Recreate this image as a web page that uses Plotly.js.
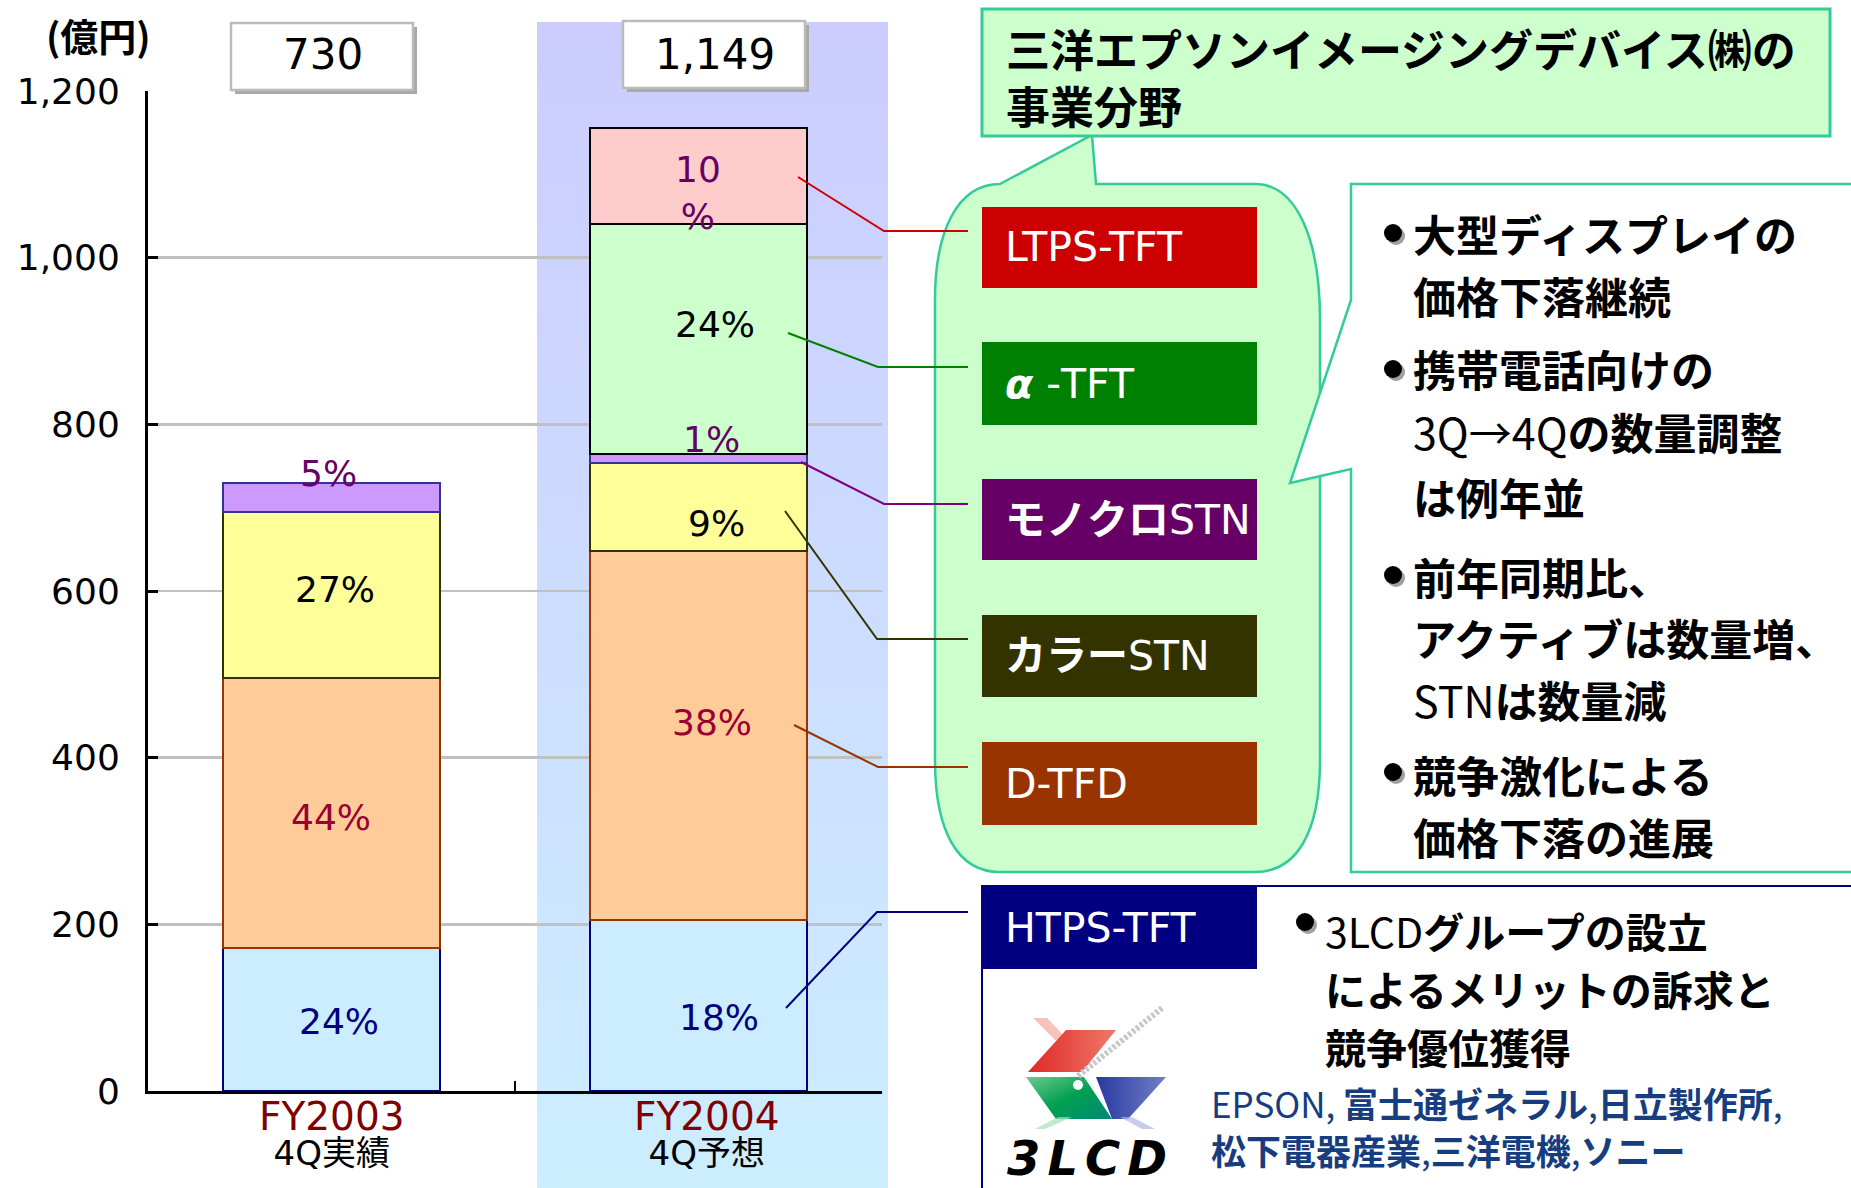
<!DOCTYPE html>
<html lang="ja">
<head>
<meta charset="UTF-8">
<title>事業分野</title>
<script src="https://cdn.plot.ly/plotly-3.0.0.min.js" charset="utf-8"></script>
<style>
    html, body { margin: 0; padding: 0; background: #fff; }
    #chart { width: 1851px; height: 1188px; }
</style>
</head>
<body>
<div id="chart"></div>
<script>
    // ---- data (億円) ----
    const categories = ['FY2003', 'FY2004'];
    const periodLabels = ['4Q実績', '4Q予想'];
    const totalLabels = ['730', '1,149'];

    const segmentNames = ['HTPS-TFT', 'D-TFD', 'カラーSTN', 'モノクロSTN', 'α-TFT', 'LTPS-TFT'];
    const htpsTft  = [172, 205];
    const dTfd     = [324, 443];
    const colorStn = [199, 106];
    const monoStn  = [35, 11];
    const alphaTft = [null, 275];
    const ltpsTft  = [null, 116];

    const htpsPct  = ['24%', '18%'];
    const dTfdPct  = ['44%', '38%'];
    const colorPct = ['27%', '9%'];
    const monoPct  = ['5%', '1%'];
    const alphaPct = [null, '24%'];
    const ltpsPct  = [null, '10<br>%'];

    // ---- texts of the side panel ----
    const boxLabels = ['HTPS-TFT', 'D-TFD', '<b>カラー</b>STN', '<b>モノクロ</b>STN', '<b><i>α</i></b> -TFT', 'LTPS-TFT'];
    const titleLines = ['三洋エプソンイメージングデバイス㈱の', '事業分野'];
    const pointLines = [
        '<b>大型ディスプレイの</b>', '<b>価格下落継続</b>',
        '<b>携帯電話向けの</b>', '3Q→4Q<b>の数量調整</b>', '<b>は例年並</b>',
        '<b>前年同期比、</b>', '<b>アクティブは数量増、</b>', 'STN<b>は数量減</b>',
        '<b>競争激化による</b>', '<b>価格下落の進展</b>'
    ];
    const groupLines = ['3LCD<b>グループの設立</b>', '<b>によるメリットの訴求と</b>', '<b>競争優位獲得</b>'];
    const memberLines = ['EPSON, <b>富士通ゼネラル</b>,<b>日立製作所</b>,', '<b>松下電器産業</b>,<b>三洋電機</b>,<b>ソニー</b>'];

    const segments = [
        {name: segmentNames[0], values: htpsTft,  labels: htpsPct},
        {name: segmentNames[1], values: dTfd,     labels: dTfdPct},
        {name: segmentNames[2], values: colorStn, labels: colorPct},
        {name: segmentNames[3], values: monoStn,  labels: monoPct},
        {name: segmentNames[4], values: alphaTft, labels: alphaPct},
        {name: segmentNames[5], values: ltpsTft,  labels: ltpsPct}
    ];

    // ---- styles ----
    const fills      = ['#CCECFF', '#FFCC99', '#FFFF99', '#CC99FF', '#CCFFCC', '#FFCCCC'];
    const outlines   = ['#000080', '#993300', '#333300', '#333399', '#000000', '#000000'];
    const pctColors  = ['#000080', '#990033', '#000000', '#660066', '#000000', '#660066'];
    const boxColors  = ['#000080', '#993300', '#333300', '#660066', '#008000', '#CC0000'];
    const leadColors = ['#000080', '#993300', '#333300', '#800080', '#008000', '#CC0000'];
    // hand placement of the percentage labels (pixel shift from segment middle)
    const pctShift = [
        [[7, -2], [20, -12]],
        [[-1, -5], [13, 13]],
        [[3, 5], [18, -17]],
        [[-3, 24], [13, 19]],
        [[0, 0], [16, 14]],
        [[0, 0], [-1, -17]]
    ];
    const latin = 'DejaVu Sans, Noto Sans CJK JP, sans-serif';
    const cjk = 'Noto Sans CJK JP, sans-serif';

    // pixel -> paper helpers for the slide decoration
    const W = 1851, H = 1188;
    const M = {l: 148, r: 969, t: 91, b: 97};
    const PW = W - M.l - M.r;
    const PH = H - M.t - M.b;
    function px(x) { return (x - M.l) / PW; }
    function py(y) { return (H - M.b - y) / PH; }
    function P(x, y) { return px(x).toFixed(5) + ',' + py(y).toFixed(5); }

    function rect(x0, y0, x1, y1, fill, line, lw) {
        return {
            type: 'rect', xref: 'paper', yref: 'paper', layer: 'above',
            x0: px(x0), x1: px(x1), y0: py(y1), y1: py(y0),
            fillcolor: fill, line: {color: line || fill, width: lw || 0}
        };
    }
    function path(d, fill, line, lw) {
        return {type: 'path', xref: 'paper', yref: 'paper', layer: 'above', path: d,
            fillcolor: fill, line: {color: line, width: lw}};
    }
    function polyline(pts, color, lw) {
        const d = pts.map((p, i) => (i ? ' L' : 'M') + P(p[0], p[1])).join('');
        return path(d, 'rgba(0,0,0,0)', color, lw);
    }
    function dot(x, y, r, color) {
        return {type: 'circle', xref: 'paper', yref: 'paper', layer: 'above',
            x0: px(x - r), x1: px(x + r), y0: py(y + r), y1: py(y - r),
            fillcolor: color, line: {width: 0}};
    }
    function label(x, y, text, size, color, family, anchor) {
        return {xref: 'paper', yref: 'paper', x: px(x), y: py(y), text: text,
            xanchor: anchor || 'left', yanchor: 'middle', showarrow: false, align: 'left',
            font: {family: family || cjk, size: size, color: color || '#000'}};
    }

    // ---- bars ----
    const traces = segments.map((s, k) => ({
        type: 'bar',
        name: s.name,
        x: categories,
        y: s.values,
        marker: {color: fills[k], line: {color: outlines[k], width: 2}},
        hoverinfo: 'skip'
    }));

    // ---- annotations ----
    const annotations = [];
    const base = [0, 0];
    segments.forEach((s, k) => {
        s.values.forEach((v, i) => {
            if (v === null) return;
            if (s.labels[i]) {
                annotations.push({
                    x: categories[i], y: base[i] + v / 2, xref: 'x', yref: 'y',
                    text: s.labels[i], showarrow: false,
                    xshift: pctShift[k][i][0], yshift: pctShift[k][i][1],
                    font: {family: latin, size: 36, color: pctColors[k]}
                });
            }
            base[i] += v;
        });
    });

    // category labels under the axis and the totals above the bars
    const catShift = [0, 8];
    const totalShift = [-9, 16];
    categories.forEach((c, i) => {
        annotations.push({x: c, y: py(1133), xref: 'x', yref: 'paper', yanchor: 'middle',
            text: '<span style="font-size:39px;fill:#800000">' + c + '</span><br>' +
                  '<span style="font-size:34px">' + periodLabels[i] + '</span>',
            showarrow: false, xshift: catShift[i],
            font: {family: latin, size: 27, color: '#000'}});
        annotations.push({x: c, y: py(55), xref: 'x', yref: 'paper', yanchor: 'middle',
            text: totalLabels[i], showarrow: false, xshift: totalShift[i],
            font: {family: latin, size: 42, color: '#000'}});
    });
    annotations.push(label(98, 35, '<b>(億円)</b>', 38, '#000', cjk, 'center'));

    // panel texts
    annotations.push(label(1004, 76, '<b>' + titleLines.join('<br>') + '</b>', 44));
    const pointY = [233, 295, 368, 431, 496, 576, 637, 699, 774, 836];
    pointLines.forEach((t, j) => annotations.push(label(1411, pointY[j], t, 43)));
    const groupY = [930, 988, 1046];
    groupLines.forEach((t, j) => annotations.push(label(1323, groupY[j], t, 41)));
    const memberY = [1102, 1149];
    memberLines.forEach((t, j) => annotations.push(label(1209, memberY[j], t, 35, '#163D80')));

    // category boxes (top to bottom on the slide)
    const boxY = [[886, 969], [742, 825], [615, 697], [479, 560], [342, 425], [207, 288]];
    boxLabels.forEach((t, k) => {
        annotations.push(label(1003, (boxY[k][0] + boxY[k][1]) / 2, t, 41, '#FFFFFF', latin));
    });
    annotations.push(label(1090, 1158,
        '<b><i><span style="letter-spacing:7px">3LCD</span></i></b>', 48, '#000', latin, 'center'));

    // ---- shapes ----
    const shapes = [];
    // green callout with pointer to the title
    shapes.push(path('M' + P(1000, 184) + ' L' + P(1092, 135) + ' L' + P(1096, 184) +
        ' L' + P(1255, 184) + ' C' + P(1297, 184) + ' ' + P(1320, 240) + ' ' + P(1320, 320) +
        ' L' + P(1320, 760) + ' C' + P(1320, 832) + ' ' + P(1297, 872) + ' ' + P(1255, 872) +
        ' L' + P(1000, 872) + ' C' + P(958, 872) + ' ' + P(935, 832) + ' ' + P(935, 760) +
        ' L' + P(935, 300) + ' C' + P(935, 230) + ' ' + P(958, 184) + ' ' + P(1000, 184) + ' Z',
        '#CCFFCC', '#33CC99', 2.5));
    // white bullet box with pointer
    shapes.push(path('M' + P(1351, 184) + ' L' + P(1858, 184) + ' L' + P(1858, 872) +
        ' L' + P(1351, 872) + ' L' + P(1351, 469) + ' L' + P(1290, 483) + ' L' + P(1351, 300) + ' Z',
        '#FFFFFF', '#33CC99', 2.5));
    // title box
    shapes.push(rect(982, 9, 1830, 136, '#CCFFCC', '#33CC99', 3));
    // bottom panel frame
    shapes.push(polyline([[982, 1195], [982, 886], [1860, 886]], '#000080', 2));
    // category boxes
    boxY.forEach((b, k) => shapes.push(rect(982, b[0], 1257, b[1], boxColors[k])));
    // leader lines from the FY2004 labels to the boxes
    const leaders = [
        [[786, 1008], [877, 912], [968, 912]],
        [[794, 725], [878, 767], [968, 767]],
        [[785, 511], [877, 639], [968, 639]],
        [[801, 462], [884, 504], [968, 504]],
        [[788, 333], [878, 367], [968, 367]],
        [[798, 177], [884, 231], [968, 231]]
    ];
    leaders.forEach((pts, k) => shapes.push(polyline(pts, leadColors[k], 2)));
    // bullets
    [[1393, 233], [1393, 369], [1393, 575], [1393, 772], [1305, 922]].forEach(b => {
        shapes.push(dot(b[0] + 3, b[1] + 3, 9, '#A0A0A0'));
        shapes.push(dot(b[0], b[1], 9, '#000000'));
    });
    // total boxes with shadow
    [[231, 23, 413, 90], [623, 21, 805, 88]].forEach(b => {
        shapes.push(rect(b[0] + 4, b[1] + 4, b[2] + 4, b[3] + 4, '#A8A8A8'));
        shapes.push(rect(b[0], b[1], b[2], b[3], '#FFFFFF', '#BBBBBB', 2.5));
    });

    // ---- images: gradient band behind FY2004 and the 3LCD mark ----
    const bandSvg = "<svg xmlns='http://www.w3.org/2000/svg' width='10' height='100' viewBox='0 0 10 100' preserveAspectRatio='none'>" +
        "<defs><linearGradient id='g' x1='0' y1='0' x2='0' y2='1'><stop offset='0' stop-color='#CCCCFF'/><stop offset='1' stop-color='#CCEEFF'/></linearGradient></defs>" +
        "<rect width='10' height='100' fill='url(#g)'/></svg>";
    const logoSvg = "<svg xmlns='http://www.w3.org/2000/svg' width='150' height='125' viewBox='0 0 150 125'>" +
        "<defs>" +
        "<linearGradient id='r' x1='0' y1='0' x2='1' y2='0'><stop offset='0' stop-color='#E02828'/><stop offset='1' stop-color='#F07868'/></linearGradient>" +
        "<linearGradient id='gr' x1='0' y1='0' x2='1' y2='1'><stop offset='0' stop-color='#70C890'/><stop offset='0.5' stop-color='#00A050'/><stop offset='1' stop-color='#008878'/></linearGradient>" +
        "<linearGradient id='b' x1='0' y1='0' x2='1' y2='0'><stop offset='0' stop-color='#2838A0'/><stop offset='1' stop-color='#7080C8'/></linearGradient>" +
        "</defs>" +
        "<polygon points='13,13 27,13 48,35 35,35' fill='#F4A8A0' opacity='0.7'/>" +
        "<polygon points='8,67 62,67 96,25 46,25' fill='url(#r)'/>" +
        "<polygon points='6,72 64,72 92,114 36,114' fill='url(#gr)'/>" +
        "<polygon points='38,112 52,112 25,124 15,124' fill='#A8E0B8' opacity='0.7'/>" +
        "<polygon points='76,72 146,72 108,114 92,114' fill='url(#b)'/>" +
        "<polygon points='100,112 112,112 135,124 122,124' fill='#B0B8E0' opacity='0.7'/>" +
        "<line x1='142' y1='3' x2='57' y2='72' stroke='#C8C8C8' stroke-width='6' stroke-dasharray='3 2'/>" +
        "<circle cx='58' cy='80' r='5' fill='white'/>" +
        "</svg>";
    const svgUri = s => 'data:image/svg+xml;charset=utf-8,' + encodeURIComponent(s);

    const images = [
        {source: svgUri(bandSvg), xref: 'paper', yref: 'paper', x: px(537), y: py(22),
            sizex: (888 - 537) / PW, sizey: (1190 - 22) / PH, xanchor: 'left', yanchor: 'top',
            sizing: 'stretch', layer: 'below'},
        {source: svgUri(logoSvg), xref: 'paper', yref: 'paper', x: px(1020), y: py(1005),
            sizex: 150 / PW, sizey: 125 / PH, xanchor: 'left', yanchor: 'top',
            sizing: 'stretch', layer: 'above'}
    ];

    const layout = {
        width: W,
        height: H,
        margin: M,
        paper_bgcolor: '#FFFFFF',
        plot_bgcolor: 'rgba(0,0,0,0)',
        font: {family: latin, color: '#000'},
        showlegend: false,
        barmode: 'stack',
        bargap: 0.41,
        xaxis: {
            type: 'category',
            range: [-0.5, 1.5],
            showline: true, linecolor: '#000', linewidth: 3,
            ticks: 'inside', tickson: 'boundaries', ticklen: 10, tickwidth: 2, tickcolor: '#000',
            showticklabels: false, showgrid: false, fixedrange: true
        },
        yaxis: {
            range: [0, 1200], tick0: 0, dtick: 200, tickformat: ',d',
            showline: true, linecolor: '#000', linewidth: 3,
            ticks: 'inside', ticklen: 10, tickwidth: 3, tickcolor: '#000',
            ticklabelstandoff: 18,
            showgrid: true, gridcolor: '#C0C0C0', gridwidth: 2.5, zeroline: false,
            tickfont: {family: latin, size: 36, color: '#000'},
            fixedrange: true
        },
        annotations: annotations,
        shapes: shapes,
        images: images
    };

    Plotly.newPlot('chart', traces, layout, {displayModeBar: false, staticPlot: true});
</script>
</body>
</html>
